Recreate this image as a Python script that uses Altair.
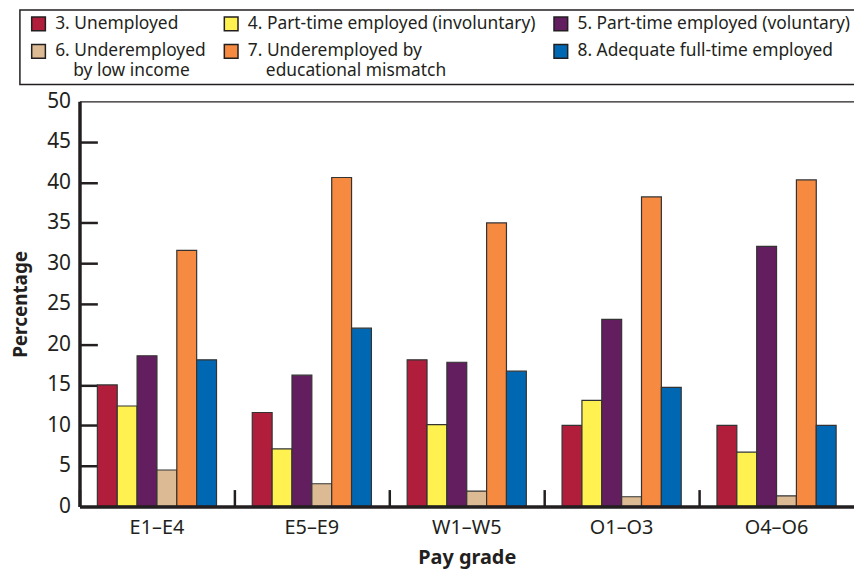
import altair as alt
import pandas as pd

# ---- data ----
grades = ["E1–E4", "E5–E9", "W1–W5", "O1–O3", "O4–O6"]
INDENT = "\u200b\u00a0\u00a0\u00a0\u00a0"
categories = [
    "3. Unemployed",
    "4. Part-time employed (involuntary)",
    "5. Part-time employed (voluntary)",
    "6. Underemployed|" + INDENT + "by low income",
    "7. Underemployed by|" + INDENT + "educational mismatch",
    "8. Adequate full-time employed",
]
unemployed = [15.0, 11.6, 18.1, 10.0, 10.0]
part_time_involuntary = [12.4, 7.1, 10.1, 13.1, 6.7]
part_time_voluntary = [18.6, 16.2, 17.8, 23.1, 32.1]
under_low_income = [4.5, 2.8, 1.9, 1.2, 1.3]
under_edu_mismatch = [31.6, 40.6, 35.0, 38.2, 40.3]
adequate_full_time = [18.1, 22.0, 16.7, 14.7, 10.0]
colors = ["#B01E3C", "#FFF150", "#631E60", "#DCBB94", "#F58A40", "#0068B3"]
y_ticks = [0, 5, 10, 15, 20, 25, 30, 35, 40, 45, 50]
inner_ticks = [5, 10, 15, 20, 25, 30, 35, 40, 45]

series = [unemployed, part_time_involuntary, part_time_voluntary,
          under_low_income, under_edu_mismatch, adequate_full_time]
rows = []
for cat, vals in zip(categories, series):
    for g, v in zip(grades, vals):
        rows.append({"grade": g, "category": cat, "value": v})
df = pd.DataFrame(rows)

W, H = 780, 408
INK = "#231f20"
FONT = "Noto Sans"

base = alt.Chart(df)

bars = base.mark_bar(stroke="#333333", strokeWidth=1.2).encode(
    x=alt.X("grade:N", sort=grades,
            scale=alt.Scale(paddingInner=0, paddingOuter=0),
            axis=alt.Axis(title="Pay grade", orient="bottom", labelAngle=0, ticks=False,
                          domainWidth=3.5, domainColor=INK, labelFontSize=20,
                          labelPadding=11, titleFontSize=20, titleFontWeight="bold",
                          titlePadding=10, zindex=2)),
    xOffset=alt.XOffset("category:N", sort=categories,
                        scale=alt.Scale(paddingOuter=0.9, paddingInner=0)),
    y=alt.Y("value:Q", scale=alt.Scale(domain=[0, 50], nice=False),
            axis=alt.Axis(title="Percentage", values=y_ticks, ticks=False, grid=False,
                          domainWidth=3.5, domainColor=INK, labelFontSize=21,
                          labelPadding=9, titleFontSize=19, titleFontWeight="bold",
                          titlePadding=16, zindex=2)),
    color=alt.Color("category:N", sort=categories,
                    scale=alt.Scale(domain=categories, range=colors),
                    legend=alt.Legend(orient="none", legendX=-60, legendY=-92,
                                      direction="horizontal", columns=3, title=None,
                                      symbolType="square", symbolSize=190,
                                      symbolStrokeColor=INK, symbolStrokeWidth=1.5,
                                      symbolOpacity=1, symbolOffset=5,
                                      labelFontSize=17.5, labelColor=INK, labelLimit=500,
                                      labelOffset=8, labelExpr="split(datum.label, '|')",
                                      padding=5, strokeColor=INK, fillColor="white",
                                      columnPadding=11, rowPadding=7)),
)

frame = base.mark_bar(opacity=0).encode(
    x=alt.X("grade:N", sort=grades,
            axis=alt.Axis(orient="top", title=None, labels=False, ticks=False,
                          domainWidth=1.3, domainColor=INK)),
    y=alt.Y("value:Q",
            axis=alt.Axis(orient="right", offset=-W, title=None, labels=False,
                          domain=False, grid=False, values=inner_ticks, tickSize=18,
                          tickWidth=2.5, tickColor=INK)),
)

separators = base.mark_bar(opacity=0).encode(
    x=alt.X("grade:N", sort=grades,
            axis=alt.Axis(orient="top", offset=-H, bandPosition=0, title=None,
                          labels=False, domain=False, tickSize=17, tickWidth=2.5,
                          tickColor=INK)),
    y=alt.Y("value:Q", axis=None),
)

chart = (
    alt.layer(bars, frame, separators)
    .resolve_axis(x="independent", y="independent")
    .properties(width=W, height=H,
                padding={"left": 72, "top": 92, "right": 0, "bottom": 64},
                autosize=alt.AutoSizeParams(type="none"))
    .configure(font=FONT)
    .configure_axis(labelColor=INK, titleColor=INK, labelFont=FONT, titleFont=FONT)
    .configure_legend(strokeWidth=1.5, labelFont=FONT)
    .configure_view(stroke=None)
)

chart.save("out.html", embed_options={"renderer": "svg", "actions": False})
